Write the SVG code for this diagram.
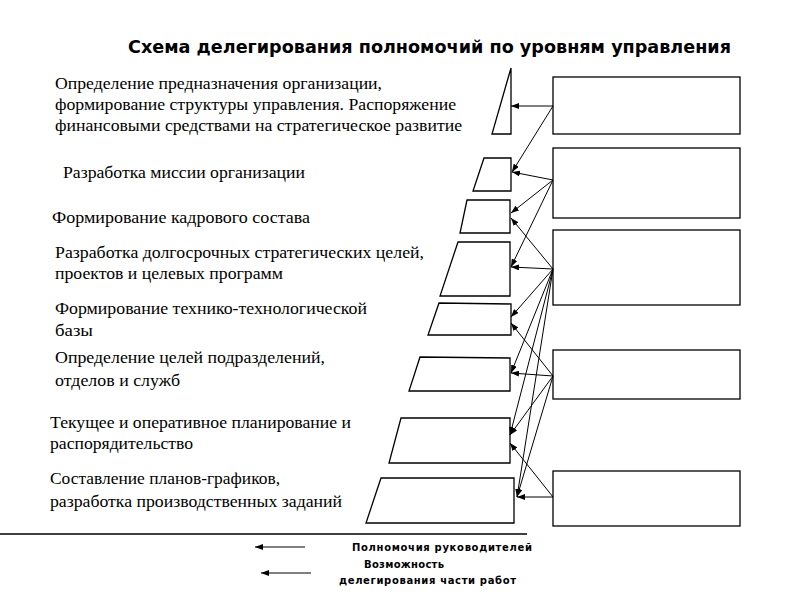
<svg xmlns="http://www.w3.org/2000/svg" width="800" height="600" viewBox="0 0 800 600">
<style>
.shape{fill:#fff;stroke:#000;stroke-width:1.3}
.box{fill:#fff;stroke:#000;stroke-width:1.3}
.lbl{font-family:"Liberation Serif","DejaVu Serif","Times New Roman",serif;font-size:16px;fill:#000}
.ttl{font-family:"DejaVu Sans",Verdana,sans-serif;font-size:17px;font-weight:bold;fill:#000}
.leg{font-family:"DejaVu Sans",Verdana,sans-serif;font-size:10px;font-weight:bold;fill:#000}
.con line{stroke:#000;stroke-width:1;marker-end:url(#ah)}
</style>
<defs>
<marker id="ah" markerWidth="8" markerHeight="6" refX="8" refY="3" orient="auto" markerUnits="userSpaceOnUse">
<path d="M0,0 L8,3 L0,6 Z" fill="#000"/>
</marker>
</defs>
<rect width="800" height="600" fill="#fff"/>
<text class="ttl" x="128" y="53" textLength="603" lengthAdjust="spacingAndGlyphs">Схема делегирования полномочий по уровням управления</text>

<g id="level1">
<polygon class="shape" points="511,68 511,134 492,134"/>
<text class="lbl" x="55" y="89" textLength="327" lengthAdjust="spacingAndGlyphs">Определение предназначения организации,</text>
<text class="lbl" x="55" y="110" textLength="401" lengthAdjust="spacingAndGlyphs">формирование структуры управления. Распоряжение</text>
<text class="lbl" x="55" y="131" textLength="407" lengthAdjust="spacingAndGlyphs">финансовыми средствами на стратегическое развитие</text>
</g>
<g id="level2">
<polygon class="shape" points="484,158 511,158 511,191 473,191"/>
<text class="lbl" x="63" y="178" textLength="242" lengthAdjust="spacingAndGlyphs">Разработка миссии организации</text>
</g>
<g id="level3">
<polygon class="shape" points="467,200 510,200 510,233 460,233"/>
<text class="lbl" x="52" y="223" textLength="258" lengthAdjust="spacingAndGlyphs">Формирование кадрового состава</text>
</g>
<g id="level4">
<polygon class="shape" points="458,242 510,242 510,296 440,296"/>
<text class="lbl" x="55" y="258" textLength="369" lengthAdjust="spacingAndGlyphs">Разработка долгосрочных стратегических целей,</text>
<text class="lbl" x="55" y="279" textLength="228" lengthAdjust="spacingAndGlyphs">проектов и целевых программ</text>
</g>
<g id="level5">
<polygon class="shape" points="439,303 511,304 511,335 428,335"/>
<text class="lbl" x="55" y="314" textLength="312" lengthAdjust="spacingAndGlyphs">Формирование технико-технологической</text>
<text class="lbl" x="55" y="336" textLength="38" lengthAdjust="spacingAndGlyphs">базы</text>
</g>
<g id="level6">
<polygon class="shape" points="420,357 510,358 510,391 409,391"/>
<text class="lbl" x="55" y="363" textLength="270" lengthAdjust="spacingAndGlyphs">Определение целей подразделений,</text>
<text class="lbl" x="55" y="386" textLength="125" lengthAdjust="spacingAndGlyphs">отделов и служб</text>
</g>
<g id="level7">
<polygon class="shape" points="401,418 510,418 510,463 389,463"/>
<text class="lbl" x="50" y="428" textLength="301" lengthAdjust="spacingAndGlyphs">Текущее и оперативное планирование и</text>
<text class="lbl" x="50" y="449" textLength="143" lengthAdjust="spacingAndGlyphs">распорядительство</text>
</g>
<g id="level8">
<polygon class="shape" points="381,478 514,478 514,523 366,523"/>
<text class="lbl" x="50" y="484" textLength="230" lengthAdjust="spacingAndGlyphs">Составление планов-графиков,</text>
<text class="lbl" x="50" y="507" textLength="292" lengthAdjust="spacingAndGlyphs">разработка производственных заданий</text>
</g>

<g id="box1"><rect class="box" x="553" y="77" width="187" height="57"/></g>
<g id="box2"><rect class="box" x="553" y="148" width="187" height="70"/></g>
<g id="box3"><rect class="box" x="553" y="230" width="187" height="75"/></g>
<g id="box4"><rect class="box" x="553" y="350" width="187" height="49"/></g>
<g id="box5"><rect class="box" x="553" y="471" width="187" height="55"/></g>

<g id="connectors" class="con">
<line x1="553" y1="106" x2="511" y2="106"/>
<line x1="553" y1="106" x2="512" y2="172"/>
<line x1="553" y1="180" x2="512" y2="172"/>
<line x1="553" y1="180" x2="511" y2="213"/>
<line x1="553" y1="180" x2="511" y2="267"/>
<line x1="553" y1="269" x2="511" y2="218"/>
<line x1="553" y1="269" x2="511" y2="267"/>
<line x1="553" y1="269" x2="511" y2="317"/>
<line x1="553" y1="269" x2="511" y2="373"/>
<line x1="553" y1="269" x2="510" y2="435"/>
<line x1="553" y1="269" x2="517" y2="497"/>
<line x1="553" y1="376" x2="511" y2="323"/>
<line x1="553" y1="376" x2="511" y2="373"/>
<line x1="553" y1="376" x2="510" y2="435"/>
<line x1="553" y1="376" x2="517" y2="497"/>
<line x1="553" y1="497" x2="510" y2="443"/>
<line x1="553" y1="497" x2="517" y2="497"/>
</g>

<g id="legend">
<line x1="0" y1="534" x2="527" y2="534" stroke="#000" stroke-width="1.3"/>
<g class="con">
<line x1="305" y1="547" x2="255" y2="547"/>
<line x1="311" y1="573" x2="261" y2="573"/>
</g>
<text class="leg" x="352" y="551" textLength="180" lengthAdjust="spacing">Полномочия руководителей</text>
<text class="leg" x="364" y="568" textLength="80" lengthAdjust="spacing">Возможность</text>
<text class="leg" x="339" y="584" textLength="177" lengthAdjust="spacing">делегирования части работ</text>
</g>
</svg>
